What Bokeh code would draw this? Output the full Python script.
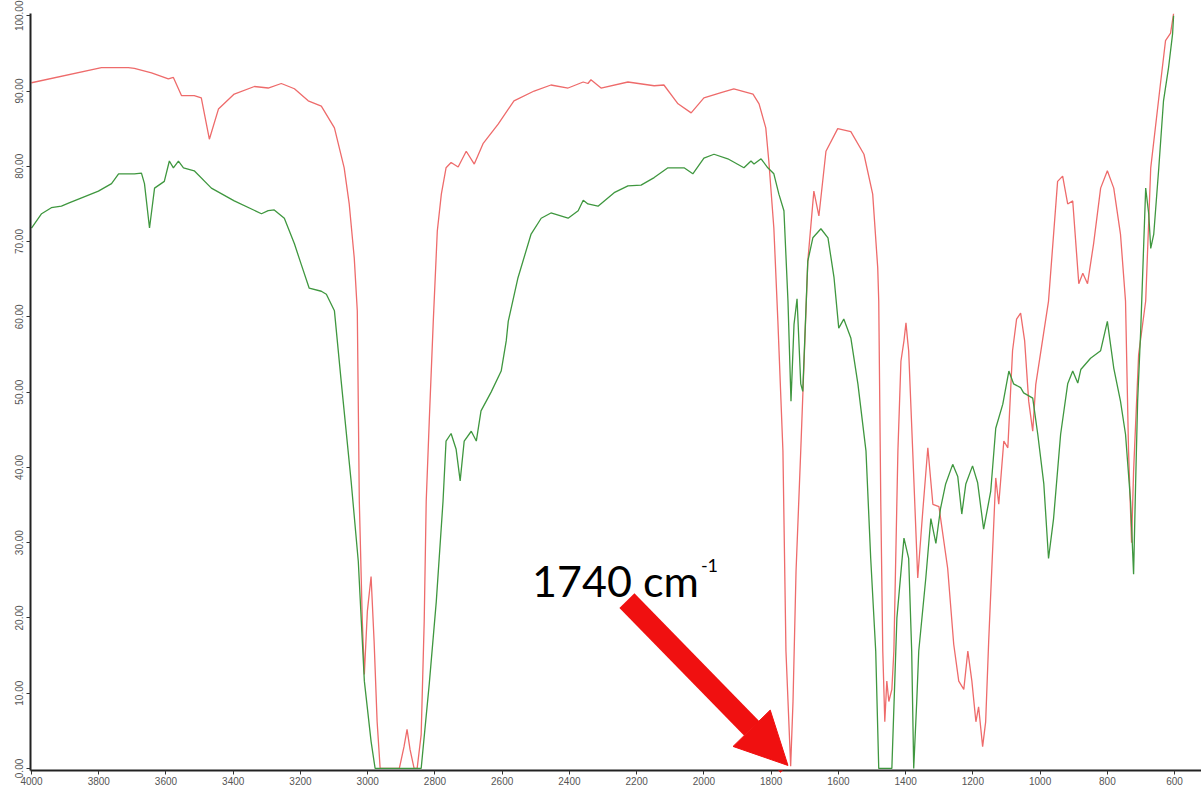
from bokeh.plotting import figure
from bokeh.models import Range1d, FixedTicker, PrintfTickFormatter, Arrow, NormalHead, Label
from bokeh.embed import file_html
from bokeh.resources import INLINE

# ---- data (wavenumber cm-1, %T) ----
red_wn = [4000, 3792, 3712, 3694, 3643, 3593, 3578, 3554, 3516, 3495, 3471, 3444, 3397, 3337, 3296,
          3257, 3218, 3177, 3138, 3099, 3070, 3055, 3040, 3031, 3025, 3016, 3010, 3001, 2990, 2981,
          2972, 2963, 2906, 2892, 2883, 2874, 2862, 2853, 2841, 2832, 2826, 2817, 2805, 2793, 2781,
          2767, 2752, 2731, 2707, 2683, 2657, 2612, 2565, 2505, 2455, 2404, 2359, 2345, 2336, 2306,
          2226, 2148, 2119, 2077, 2038, 2000, 1949, 1911, 1854, 1836, 1816, 1807, 1792, 1780, 1765,
          1756, 1742, 1735, 1726, 1712, 1691, 1673, 1658, 1637, 1602, 1563, 1524, 1498, 1483, 1480,
          1474, 1468, 1462, 1456, 1450, 1441, 1435, 1423, 1414, 1405, 1399, 1394, 1391, 1379, 1364,
          1349, 1334, 1319, 1301, 1275, 1257, 1242, 1227, 1215, 1203, 1191, 1183, 1171, 1162, 1153,
          1132, 1123, 1108, 1096, 1082, 1070, 1058, 1046, 1034, 1022, 1013, 975, 948, 933, 918,
          903, 885, 873, 859, 841, 820, 800, 781, 761, 746, 737, 728, 722, 707, 686, 671, 642, 627,
          612, 603]
red_t = [91.1, 93.1, 93.1, 93.0, 92.4, 91.6, 91.8, 89.4, 89.4, 89.1, 83.6, 87.6, 89.6, 90.6, 90.4,
         91.0, 90.3, 88.7, 88.0, 85.1, 79.8, 75.0, 67.8, 60.8, 35.5, 19.5, 12.5, 20.9, 25.5, 16.9,
         6.2, 0.0, 0.0, 2.9, 5.2, 2.5, 0.0, 0.0, 4.5, 19.5, 35.5, 46.1, 59.4, 71.4, 76.3,
         79.8, 80.5, 79.9, 82.0, 80.3, 83.0, 85.6, 88.7, 90.0, 90.8, 90.4, 91.2, 91.0, 91.5, 90.4,
         91.2, 90.7, 90.8, 88.3, 87.1, 89.1, 89.8, 90.3, 89.6, 88.3, 85.1, 80.7, 71.8, 59.4, 42.2,
         15.6, 0.3, 8.9, 26.2, 42.2, 67.4, 76.7, 73.4, 82.0, 85.0, 84.6, 81.6, 76.3, 66.5, 62.1,
         35.5, 15.6, 6.2, 11.6, 8.9, 10.5, 15.6, 42.2, 54.1, 56.8, 59.2, 56.8, 55.5, 42.2, 25.3,
         34.2, 42.6, 35.1, 34.8, 26.6, 16.5, 11.6, 10.5, 15.6, 11.6, 6.2, 8.2, 2.9, 6.2, 16.9,
         38.6, 35.1, 43.5, 42.6, 55.5, 59.7, 60.5, 56.8, 48.8, 44.8, 51.0, 62.1, 78.0, 78.7, 75.0,
         75.4, 64.4, 65.8, 64.4, 69.7, 77.1, 79.4, 77.1, 71.0, 62.1, 42.2, 30.0, 39.5, 55.0, 62.1,
         79.8, 91.0, 96.7, 97.7, 100.3]

green_wn = [4000, 3970, 3941, 3911, 3890, 3851, 3801, 3762, 3741, 3694, 3673, 3664, 3649, 3634, 3605,
            3590, 3578, 3563, 3548, 3516, 3465, 3397, 3316, 3296, 3278, 3248, 3218, 3198, 3174, 3138,
            3123, 3099, 3079, 3049, 3028, 3010, 2990, 2978, 2841, 2817, 2796, 2776, 2767, 2752, 2737,
            2725, 2713, 2692, 2677, 2663, 2633, 2603, 2588, 2582, 2553, 2514, 2484, 2455, 2404, 2374,
            2359, 2345, 2315, 2267, 2226, 2187, 2148, 2107, 2059, 2033, 2000, 1970, 1929, 1881, 1860,
            1851, 1830, 1810, 1792, 1777, 1762, 1750, 1741, 1732, 1723, 1712, 1706, 1691, 1676, 1652,
            1631, 1613, 1599, 1584, 1563, 1542, 1518, 1504, 1489, 1480, 1441, 1426, 1405, 1391, 1382,
            1376, 1367, 1361, 1340, 1325, 1310, 1296, 1281, 1260, 1245, 1233, 1221, 1201, 1186, 1168,
            1147, 1132, 1111, 1093, 1079, 1058, 1049, 1022, 1007, 989, 975, 960, 939, 918, 903,
            888, 879, 850, 820, 800, 781, 761, 746, 731, 722, 716, 710, 701, 686, 677, 671, 662,
            647, 633, 618, 606, 603]
green_t = [71.8, 73.7, 74.5, 74.7, 75.1, 75.8, 76.7, 77.7, 79.0, 79.0, 79.1, 77.7, 71.8, 77.1, 78.0,
           80.7, 79.8, 80.7, 79.8, 79.4, 77.1, 75.4, 73.7, 74.1, 74.2, 73.1, 69.7, 67.0, 63.8, 63.4,
           63.0, 60.8, 51.5, 38.0, 27.5, 11.6, 3.6, 0.0, 0.0, 11.2, 22.2, 35.5, 43.5, 44.5, 42.4,
           38.2, 43.5, 44.8, 43.5, 47.5, 50.0, 52.8, 56.8, 59.4, 65.2, 71.0, 73.1, 73.8, 73.1, 74.1,
           75.5, 75.0, 74.7, 76.5, 77.4, 77.5, 78.5, 79.8, 79.8, 79.0, 81.1, 81.6, 81.0, 79.8, 80.7,
           80.3, 81.0, 79.8, 79.0, 76.3, 74.1, 62.1, 48.8, 59.0, 62.4, 51.1, 50.1, 67.4, 70.5, 71.7,
           70.5, 65.2, 58.5, 59.7, 57.2, 51.1, 42.2, 28.0, 15.6, 0.0, 0.0, 20.0, 30.6, 27.9, 15.6,
           0.0, 8.9, 15.6, 25.3, 33.2, 29.9, 34.6, 37.8, 40.4, 38.8, 33.8, 37.8, 40.2, 38.0, 31.8,
           36.8, 45.2, 48.4, 52.8, 51.1, 50.6, 49.9, 49.2, 44.4, 37.8, 27.9, 33.2, 44.4, 51.1, 52.8,
           51.2, 53.0, 54.5, 55.5, 59.4, 53.2, 48.8, 44.4, 35.5, 25.8, 37.8, 48.8, 58.0, 77.1, 73.7,
           69.1, 71.0, 79.8, 88.7, 93.1, 97.6, 100.0]

x_ticks = [4000, 3800, 3600, 3400, 3200, 3000, 2800, 2600, 2400, 2200, 2000, 1800, 1600, 1400,
           1200, 1000, 800, 600]
y_ticks = [0, 10, 20, 30, 40, 50, 60, 70, 80, 90, 100]

peak_label = "1740 cm"
peak_sup = "-1"
peak_wn = 1742

# ---- figure ----
p = figure(width=1201, height=787, output_backend="svg", toolbar_location=None,
           x_range=Range1d(4003, 520), y_range=Range1d(-0.27, 100.3),
           min_border_left=30, min_border_right=0, min_border_top=13, min_border_bottom=0)
p.outline_line_color = None
p.grid.visible = False
p.background_fill_color = "white"

p.line(red_wn, red_t, line_color="#ee6b6b", line_width=1.3)
p.line(green_wn, green_t, line_color="#3f973f", line_width=1.3)

for ax in (p.xaxis[0], p.yaxis[0]):
    ax.axis_line_color = "#222222"
    ax.axis_line_width = 2
    ax.major_tick_line_color = "#333333"
    ax.major_tick_in = 0
    ax.major_tick_out = 4
    ax.minor_tick_line_color = None
    ax.major_label_text_color = "#555555"
    ax.major_label_text_font = "Liberation Sans"

p.xaxis.ticker = FixedTicker(ticks=x_ticks)
p.xaxis.major_label_text_font_size = "10px"
p.xaxis.major_label_standoff = 2

p.yaxis.ticker = FixedTicker(ticks=y_ticks)
p.yaxis.formatter = PrintfTickFormatter(format="%.2f")
p.yaxis.major_label_orientation = "vertical"
p.yaxis.major_label_text_font_size = "10px"
p.yaxis.major_label_standoff = 3

# ---- annotation ----
p.add_layout(Arrow(end=NormalHead(size=52, fill_color="#f01010", line_color="#f01010"),
                   x_start=2229, y_start=22.3, x_end=peak_wn + 8, y_end=0.4,
                   line_color="#f01010", line_width=21))
p.add_layout(Label(x=2511, y=25.0, text=peak_label, text_font="Lato", text_font_size="43px",
                   text_color="black", text_baseline="alphabetic", text_align="left"))
p.add_layout(Label(x=2009, y=27.0, text=peak_sup, text_font="Lato", text_font_size="18px",
                   text_color="black", text_baseline="alphabetic", text_align="left"))

open("out.html", "w").write(file_html(p, INLINE))
